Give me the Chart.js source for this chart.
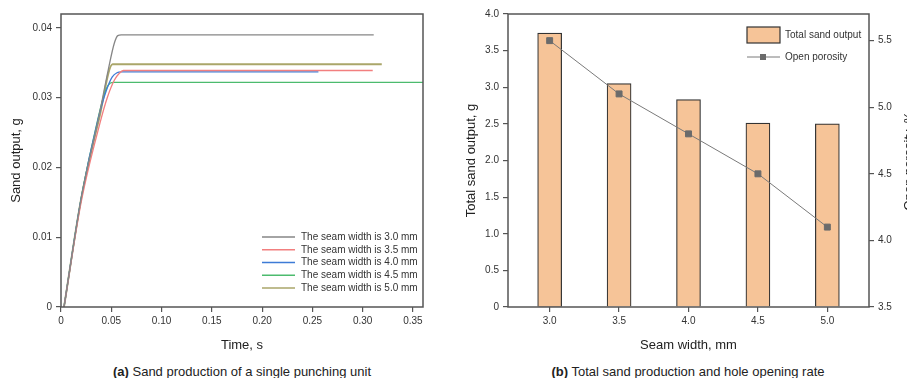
<!DOCTYPE html>
<html>
<head>
<meta charset="utf-8">
<script src="https://cdn.jsdelivr.net/npm/chart.js@4.4.0/dist/chart.umd.min.js"></script>
<style>
    body { margin: 0; background: #fff; overflow: hidden; font-family: 'Liberation Sans', Arial, sans-serif; }
    .box { position: absolute; top: 0; height: 358px; }
    .cap { position: absolute; top: 363px; font-size: 13px; line-height: 17px; color: #222; text-align: center; }
</style>
</head>
<body>
<div class="box" style="left:0;width:450px"><canvas id="chartA"></canvas></div>
<div class="box" style="left:450px;width:457px"><canvas id="chartB"></canvas></div>
<div class="cap" style="left:0;width:484px"><b>(a)</b> Sand production of a single punching unit</div>
<div class="cap" style="left:450px;width:476px"><b>(b)</b> Total sand production and hole opening rate</div>
<script>
// (a) sand output over time, one curve per seam width
const labelsA = ['The seam width is 3.0 mm', 'The seam width is 3.5 mm', 'The seam width is 4.0 mm', 'The seam width is 4.5 mm', 'The seam width is 5.0 mm'];
const time30 = [0.003, 0.02, 0.038, 0.047, 0.053, 0.0565, 0.06, 0.311];
const sand30 = [0, 0.0155, 0.0275, 0.034, 0.0378, 0.0389, 0.039, 0.039];
const time35 = [0.003, 0.02, 0.039, 0.046, 0.053, 0.058, 0.062, 0.31];
const sand35 = [0, 0.015, 0.0265, 0.03, 0.0325, 0.0335, 0.0339, 0.0339];
const time40 = [0.003, 0.02, 0.037, 0.045, 0.051, 0.056, 0.06, 0.256];
const sand40 = [0, 0.0155, 0.027, 0.031, 0.033, 0.0336, 0.0337, 0.0337];
const time45 = [0.003, 0.02, 0.036, 0.042, 0.047, 0.052, 0.36];
const sand45 = [0, 0.0155, 0.0265, 0.03, 0.0318, 0.0322, 0.0322];
const time50 = [0.003, 0.02, 0.038, 0.0513, 0.319];
const sand50 = [0, 0.0155, 0.027, 0.0348, 0.0348];
const colorsA = ['#868686', '#f27f7f', '#3d7bd6', '#4cbb6e', '#aaa66a'];

// (b) totals per seam width
const seamWidths = [3.0, 3.5, 4.0, 4.5, 5.0];
const totalSand = [3.74, 3.05, 2.83, 2.51, 2.50];
const openPorosity = [5.5, 5.1, 4.8, 4.5, 4.1];

const FONT = "'Liberation Sans', Arial, sans-serif";
const tickFont = { family: FONT, size: 10 };
const titleFont = { family: FONT, size: 13 };

function toPoints(xs, ys) {
    return xs.map((x, i) => ({ x: x, y: ys[i] }));
}

const boxPlugin = {
    id: 'box',
    afterDraw(chart) {
        const a = chart.chartArea;
        const ctx = chart.ctx;
        ctx.save();
        ctx.strokeStyle = '#555';
        ctx.lineWidth = 1.5;
        ctx.strokeRect(a.left, a.top, a.right - a.left, a.bottom - a.top);
        ctx.restore();
    }
};

const legendA = {
    id: 'legendA',
    afterDraw(chart) {
        const ctx = chart.ctx;
        ctx.save();
        ctx.font = '10px ' + FONT;
        ctx.textBaseline = 'middle';
        chart.data.datasets.forEach(function(ds, i) {
            const y = 237 + i * 12.75;
            ctx.strokeStyle = ds.borderColor;
            ctx.lineWidth = 1.5;
            ctx.beginPath();
            ctx.moveTo(262, y);
            ctx.lineTo(295, y);
            ctx.stroke();
            ctx.fillStyle = '#333';
            ctx.fillText(ds.label, 301, y);
        });
        ctx.restore();
    }
};

const legendB = {
    id: 'legendB',
    afterDraw(chart) {
        const ctx = chart.ctx;
        const bar = chart.data.datasets[0];
        const line = chart.data.datasets[1];
        ctx.save();
        ctx.font = '10px ' + FONT;
        ctx.textBaseline = 'middle';
        ctx.fillStyle = bar.backgroundColor;
        ctx.fillRect(297, 27, 33, 16);
        ctx.strokeStyle = bar.borderColor;
        ctx.lineWidth = 1.2;
        ctx.strokeRect(297, 27, 33, 16);
        ctx.fillStyle = '#333';
        ctx.fillText(bar.label, 335, 35);
        ctx.strokeStyle = line.borderColor;
        ctx.lineWidth = 1;
        ctx.beginPath();
        ctx.moveTo(297, 57);
        ctx.lineTo(330, 57);
        ctx.stroke();
        ctx.fillStyle = line.pointBackgroundColor;
        ctx.fillRect(310, 54, 6, 6);
        ctx.fillStyle = '#333';
        ctx.fillText(line.label, 335, 57);
        // right axis title, reads bottom to top like the left one
        ctx.font = '13px ' + FONT;
        ctx.fillStyle = '#222';
        ctx.textAlign = 'center';
        ctx.translate(459, 161);
        ctx.rotate(-Math.PI / 2);
        ctx.fillText('Open porosity, %', 0, 0);
        ctx.restore();
    }
};

function axisGrid() {
    return { drawOnChartArea: false, drawTicks: true, tickLength: 5, color: '#555', lineWidth: 1.2, offset: false };
}

const timesA = [time30, time35, time40, time45, time50];
const sandsA = [sand30, sand35, sand40, sand45, sand50];

new Chart(document.getElementById('chartA'), {
    type: 'line',
    data: {
        datasets: labelsA.map(function(label, i) {
            return {
                label: label,
                data: toPoints(timesA[i], sandsA[i]),
                borderColor: colorsA[i],
                borderWidth: i === 4 ? 1.8 : 1.3,
                pointRadius: 0,
                cubicInterpolationMode: 'monotone',
                fill: false
            };
        })
    },
    options: {
        responsive: true,
        maintainAspectRatio: false,
        animation: false,
        layout: { padding: { top: 14, right: 27, left: 0, bottom: 0 } },
        plugins: { legend: { display: false }, tooltip: { enabled: false } },
        scales: {
            x: {
                type: 'linear',
                min: 0,
                max: 0.36,
                afterFit: function(s) { s.height = 51; },
                border: { display: false },
                grid: axisGrid(),
                ticks: {
                    stepSize: 0.05,
                    includeBounds: false,
                    maxRotation: 0,
                    padding: 3,
                    color: '#333',
                    font: tickFont,
                    callback: v => v === 0 ? '0' : v.toFixed(2)
                },
                title: { display: true, text: 'Time, s', color: '#222', font: titleFont, padding: { top: 0, bottom: 5 } }
            },
            y: {
                min: 0,
                max: 0.042,
                afterFit: function(s) { s.width = 61; },
                border: { display: false },
                grid: axisGrid(),
                ticks: {
                    stepSize: 0.01,
                    includeBounds: false,
                    padding: 4,
                    color: '#333',
                    font: tickFont,
                    callback: v => v === 0 ? '0' : v.toFixed(2)
                },
                title: { display: true, text: 'Sand output, g', color: '#222', font: titleFont, padding: { top: 9, bottom: 0 } }
            }
        }
    },
    plugins: [boxPlugin, legendA]
});

new Chart(document.getElementById('chartB'), {
    type: 'bar',
    data: {
        datasets: [
            {
                type: 'bar',
                label: 'Total sand output',
                data: toPoints(seamWidths, totalSand),
                backgroundColor: '#f6c498',
                borderColor: '#333',
                borderWidth: 1.2,
                barThickness: 24,
                yAxisID: 'y',
                order: 2
            },
            {
                type: 'line',
                label: 'Open porosity',
                data: toPoints(seamWidths, openPorosity),
                borderColor: '#7a7a7a',
                borderWidth: 1,
                pointStyle: 'rect',
                pointRadius: 4.2,
                pointBackgroundColor: '#6b6b6b',
                pointBorderColor: '#6b6b6b',
                yAxisID: 'y1',
                order: 1
            }
        ]
    },
    options: {
        responsive: true,
        maintainAspectRatio: false,
        animation: false,
        layout: { padding: { top: 14, right: 0, left: 0, bottom: 0 } },
        plugins: { legend: { display: false }, tooltip: { enabled: false } },
        scales: {
            x: {
                type: 'linear',
                offset: false,
                min: 2.7,
                max: 5.3,
                afterFit: function(s) { s.height = 51; },
                border: { display: false },
                grid: axisGrid(),
                ticks: {
                    stepSize: 0.5,
                    includeBounds: false,
                    maxRotation: 0,
                    padding: 3,
                    color: '#333',
                    font: tickFont,
                    callback: v => v.toFixed(1)
                },
                title: { display: true, text: 'Seam width, mm', color: '#222', font: titleFont, padding: { top: 0, bottom: 5 } }
            },
            y: {
                position: 'left',
                min: 0,
                max: 4,
                afterFit: function(s) { s.width = 58; },
                border: { display: false },
                grid: axisGrid(),
                ticks: {
                    stepSize: 0.5,
                    includeBounds: false,
                    padding: 4,
                    color: '#333',
                    font: tickFont,
                    callback: v => v === 0 ? '0' : v.toFixed(1)
                },
                title: { display: true, text: 'Total sand output, g', color: '#222', font: titleFont, padding: { top: 14, bottom: 0 } }
            },
            y1: {
                position: 'right',
                min: 3.5,
                max: 5.7,
                afterFit: function(s) { s.width = 38; },
                border: { display: false },
                grid: axisGrid(),
                ticks: {
                    stepSize: 0.5,
                    includeBounds: false,
                    padding: 4,
                    color: '#333',
                    font: tickFont,
                    callback: v => v.toFixed(1)
                }
            }
        }
    },
    plugins: [boxPlugin, legendB]
});
</script>
</body>
</html>
